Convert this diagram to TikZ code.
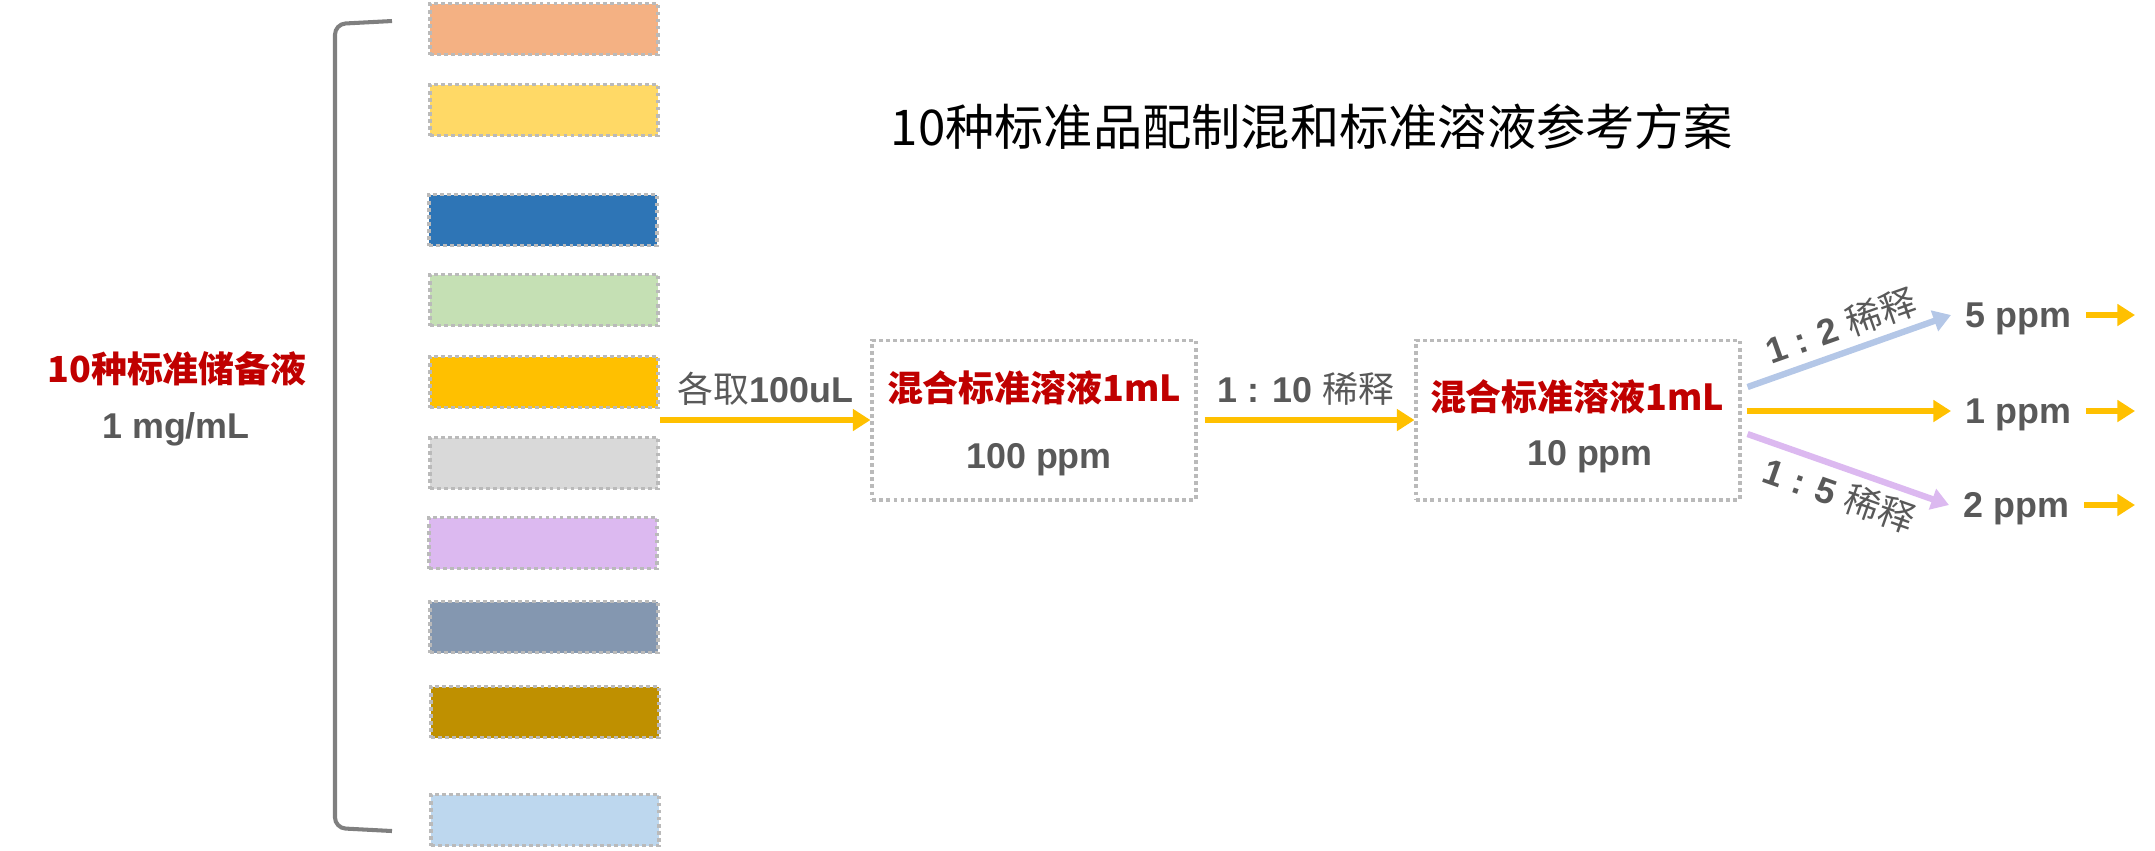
\documentclass[tikz,border=0pt]{standalone}
\usepackage{fontspec}
\setmainfont{Liberation Sans}
\newfontfamily\cjk{Noto Sans CJK SC}
\usetikzlibrary{arrows.meta,calc}

\definecolor{hong}{RGB}{192,0,0}
\definecolor{hui}{RGB}{89,89,89}
\definecolor{xian}{RGB}{186,186,186}
\definecolor{kuohao}{RGB}{127,127,127}
\definecolor{huang}{RGB}{255,192,0}
\definecolor{qinglan}{RGB}{180,199,231}
\definecolor{zi}{RGB}{220,185,240}
\definecolor{se1}{RGB}{244,177,131}
\definecolor{se2}{RGB}{255,217,102}
\definecolor{se3}{RGB}{46,117,182}
\definecolor{se4}{RGB}{197,224,180}
\definecolor{se5}{RGB}{255,192,0}
\definecolor{se6}{RGB}{217,217,217}
\definecolor{se7}{RGB}{220,185,240}
\definecolor{se8}{RGB}{132,151,176}
\definecolor{se9}{RGB}{191,144,0}
\definecolor{se10}{RGB}{189,215,238}

\begin{document}
\begin{tikzpicture}[x=0.01cm, y=-0.01cm,
    tiao/.style={draw=xian, line width=1.1pt, dash pattern=on 1.1pt off 0.9pt,
        minimum width=2.28cm, minimum height=0.51cm, inner sep=0},
    hezi/.style={draw=xian, line width=1.1pt, dash pattern=on 1.1pt off 0.9pt,
        minimum width=3.23cm, minimum height=1.59cm, inner sep=0},
    jiantou/.style={line width=1.8pt, -{Triangle[length=5pt,width=6pt]}},
    hongzi/.style={font=\cjk\bfseries\fontsize{10.2}{12}\selectfont, text=hong},
    huizi/.style={font=\fontsize{10.2}{12}\selectfont\bfseries, text=hui},
    ppm/.style={huizi, anchor=west, inner xsep=0.14cm, inner ysep=0,
        text height=7.3pt, text depth=0pt}]

    \useasboundingbox (0,0) rectangle (2155,850);

    % 标题
    \node[anchor=base, font=\cjk\fontsize{14}{16}\selectfont] (biaoti) at (1312,145)
        {10种标准品配制混和标准溶液参考方案};

    % 储备液
    \node[hongzi, anchor=base] (ming) at (177,382) {10种标准储备液};
    \node[huizi, anchor=base] (nongdu) at (176,438) {1 mg/mL};

    % 括号
    \draw[line width=1.15pt, kuohao, rounded corners=3pt]
        (392,21) -- (335,24) -- (335,828) -- (392,831);

    % 色条
    \node[tiao, fill=se1] (bar1) at (544,29) {};
    \node[tiao, fill=se2] (bar2) at (544,110) {};
    \node[tiao, fill=se3] (bar3) at (543,220) {};
    \node[tiao, fill=se4] (bar4) at (544,300) {};
    \node[tiao, fill=se5] (bar5) at (544,382) {};
    \node[tiao, fill=se6] (bar6) at (544,463) {};
    \node[tiao, fill=se7] (bar7) at (543,543) {};
    \node[tiao, fill=se8] (bar8) at (544,627) {};
    \node[tiao, fill=se9] (bar9) at (545,712) {};
    \node[tiao, fill=se10] (bar10) at (545,820) {};

    % 混合标准溶液
    \node[hezi] (box1) at (1034,420) {};
    \node[hezi] (box2) at (1578,420) {};
    \node[hongzi, anchor=base] (h1a) at (1034,401) {混合标准溶液1mL};
    \node[huizi, anchor=base] (h1b) at (1039,468) {100 ppm};
    \node[hongzi, anchor=base] (h2a) at (1577,410) {混合标准溶液1mL};
    \node[huizi, anchor=base] (h2b) at (1590,465) {10 ppm};

    \draw[jiantou, huang] (bar5.east |- box1.west) --
        node[above, huizi] {{\cjk\mdseries 各取}100uL} (box1.west);
    \draw[jiantou, huang, shorten <=2pt] (box1.east) --
        node[above, huizi] {1 : 10 {\cjk\mdseries 稀释}} (box2.west);

    % 稀释
    \node[ppm] (p5) at (1951,315) {5 ppm};
    \node[ppm] (p1) at (1951,411) {1 ppm};
    \node[ppm] (p2) at (1949,505) {2 ppm};

    \draw[jiantou, qinglan] ($(box2.east)+(6,-33)$) --
        node[midway, sloped, above, huizi, inner sep=2pt] {1 : 2 {\cjk\mdseries 稀释}} (p5.west);
    \draw[jiantou, huang] ($(p1.west -| box2.east)+(5,0)$) -- (p1.west);
    \draw[jiantou, zi] ($(box2.east)+(6,14)$) --
        node[midway, sloped, below, huizi, inner sep=2pt] {1 : 5 {\cjk\mdseries 稀释}} (p2.west);

    \coordinate (bian) at (2135,0);
    \draw[jiantou, huang] (p5.east) -- (p5.east -| bian);
    \draw[jiantou, huang] (p1.east) -- (p1.east -| bian);
    \draw[jiantou, huang] (p2.east) -- (p2.east -| bian);

\end{tikzpicture}
\end{document}
